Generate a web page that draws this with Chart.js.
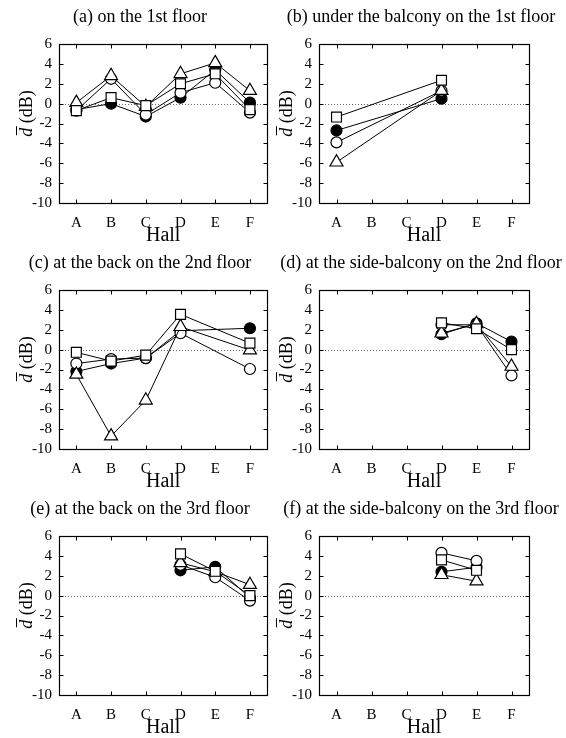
<!DOCTYPE html>
<html>
<head>
<meta charset="utf-8">
<script src="https://cdn.jsdelivr.net/npm/chart.js@4.4.1/dist/chart.umd.min.js"></script>
<style>
  html, body { margin: 0; padding: 0; background: #fff; }
  #fig { position: relative; width: 566px; height: 738px; overflow: hidden; }
  #fig canvas { position: absolute; }
</style>
</head>
<body>
<div id="fig"></div>
<script>
// ---- data ----
const HALLS = ['A', 'B', 'C', 'D', 'E', 'F'];
const Y_TICKS = [-10, -8, -6, -4, -2, 0, 2, 4, 6];
const TITLES = [
  '(a) on the 1st floor',
  '(b) under the balcony on the 1st floor',
  '(c) at the back on the 2nd floor',
  '(d) at the side-balcony on the 2nd floor',
  '(e) at the back on the 3rd floor',
  '(f) at the side-balcony on the 3rd floor'
];

// (a)
const a_filled   = [-0.6, 0.0, -1.3, 0.6, 3.4, 0.1];
const a_open     = [-0.7, 2.5, -1.1, 1.1, 2.1, -0.9];
const a_square   = [-0.7, 0.6, -0.2, 2.0, 3.0, -0.6];
const a_triangle = [0.1, 2.8, -0.3, 3.0, 4.1, 1.3];
// (b)
const b_filled   = [-2.7, null, null, 0.5, null, null];
const b_open     = [-3.9, null, null, 1.3, null, null];
const b_square   = [-1.35, null, null, 2.35, null, null];
const b_triangle = [-5.9, null, null, 1.3, null, null];
// (c)
const c_filled   = [-2.2, -1.4, -0.85, 1.9, null, 2.15];
const c_open     = [-1.4, -0.95, -0.85, 1.65, null, -1.95];
const c_square   = [-0.27, -1.15, -0.55, 3.55, null, 0.65];
const c_triangle = [-2.5, -8.7, -5.1, 2.3, null, -0.05];
// (d)
const d_filled   = [null, null, null, 1.55, 2.65, 0.8];
const d_open     = [null, null, null, 2.5, 2.5, -2.6];
const d_square   = [null, null, null, 2.7, 2.1, 0.0];
const d_triangle = [null, null, null, 1.65, 2.6, -1.7];
// (e)
const e_filled   = [null, null, null, 2.55, 2.9, -0.2];
const e_open     = [null, null, null, 3.1, 1.85, -0.5];
const e_square   = [null, null, null, 4.2, 2.45, 0.0];
const e_triangle = [null, null, null, 3.3, 2.4, 1.1];
// (f)
const f_filled   = [null, null, null, 2.4, 2.85, null];
const f_open     = [null, null, null, 4.3, 3.5, null];
const f_square   = [null, null, null, 3.6, 2.55, null];
const f_triangle = [null, null, null, 2.1, 1.45, null];

const PANELS = [
  [a_filled, a_open, a_square, a_triangle],
  [b_filled, b_open, b_square, b_triangle],
  [c_filled, c_open, c_square, c_triangle],
  [d_filled, d_open, d_square, d_triangle],
  [e_filled, e_open, e_square, e_triangle],
  [f_filled, f_open, f_square, f_triangle]
];

// ---- layout ----
const SERIF = '"Liberation Serif", "DejaVu Serif", serif';
const COL_X = [0, 276];
const COL_W = [276, 290];
const Y_AXIS_W = [59, 43];
const PAD_RIGHT = [7, 37];
const TITLE_CX = [140, 421];
const ROW_Y = [0, 246, 492];
const ROW_H = 246;

// gnuplot-like frame: box, inward ticks, dotted zero line, titles
const framePlugin = {
  id: 'frame',
  beforeDatasetsDraw(chart) {
    const { ctx, chartArea: ca, scales } = chart;
    const y0 = Math.round(scales.y.getPixelForValue(0)) + 0.5;
    ctx.save();
    ctx.strokeStyle = '#666';
    ctx.lineWidth = 1;
    ctx.setLineDash([1, 2]);
    ctx.beginPath();
    ctx.moveTo(ca.left, y0);
    ctx.lineTo(ca.right, y0);
    ctx.stroke();
    ctx.restore();
  },
  afterDraw(chart, args, opts) {
    const { ctx, chartArea: ca, scales } = chart;
    const L = Math.round(ca.left) + 0.5, R = Math.round(ca.right) + 0.5;
    const T = Math.round(ca.top) + 0.5, B = Math.round(ca.bottom) + 0.5;
    const tl = 4;
    ctx.save();
    ctx.strokeStyle = '#000';
    ctx.lineWidth = 1;
    ctx.beginPath();
    Y_TICKS.forEach(function(v) {
      const py = Math.round(scales.y.getPixelForValue(v)) + 0.5;
      ctx.moveTo(L, py); ctx.lineTo(L + tl, py);
      ctx.moveTo(R, py); ctx.lineTo(R - tl, py);
    });
    HALLS.forEach(function(h, i) {
      const px = Math.round(scales.x.getPixelForValue(i)) + 0.5;
      ctx.moveTo(px, B); ctx.lineTo(px, B - tl);
      ctx.moveTo(px, T); ctx.lineTo(px, T + tl);
    });
    ctx.stroke();
    ctx.lineWidth = 1.2;
    ctx.strokeRect(L, T, R - L, B - T);

    // panel title
    ctx.fillStyle = '#000';
    ctx.font = '18px ' + SERIF;
    ctx.textAlign = 'center';
    ctx.textBaseline = 'middle';
    ctx.fillText(opts.title, opts.titleX, 17);

    // y axis title: d-bar (dB)
    ctx.textAlign = 'left';
    ctx.translate(ca.left - 32, (ca.top + ca.bottom) / 2 - 10);
    ctx.rotate(-Math.PI / 2);
    ctx.font = 'italic 18px ' + SERIF;
    const wd = ctx.measureText('d').width;
    ctx.font = '18px ' + SERIF;
    const wr = ctx.measureText(' (dB)').width;
    const x = -(wd + wr) / 2;
    ctx.font = 'italic 18px ' + SERIF;
    ctx.fillText('d', x, 0);
    ctx.lineWidth = 1;
    ctx.beginPath();
    ctx.moveTo(x + 1.5, -10.5);
    ctx.lineTo(x + wd + 1.5, -10.5);
    ctx.stroke();
    ctx.font = '18px ' + SERIF;
    ctx.fillText(' (dB)', x + wd, 0);
    ctx.restore();
  }
};

function makePanel(idx) {
  const col = idx % 2, row = Math.floor(idx / 2);
  const s = PANELS[idx];
  const canvas = document.createElement('canvas');
  canvas.width = COL_W[col];
  canvas.height = ROW_H;
  canvas.style.left = COL_X[col] + 'px';
  canvas.style.top = ROW_Y[row] + 'px';
  document.getElementById('fig').appendChild(canvas);

  const common = { borderColor: '#000', borderWidth: 1, pointBorderColor: '#000',
                   pointBorderWidth: 1.2, tension: 0, spanGaps: true };

  new Chart(canvas, {
    type: 'line',
    data: {
      labels: HALLS,
      // first dataset is drawn on top
      datasets: [
        Object.assign({ data: s[2], pointStyle: 'rect', pointRadius: 7, pointBackgroundColor: '#fff' }, common),
        Object.assign({ data: s[3], pointStyle: 'triangle', pointRadius: 7.5, pointBackgroundColor: '#fff' }, common),
        Object.assign({ data: s[1], pointStyle: 'circle', pointRadius: 5.5, pointBackgroundColor: '#fff' }, common),
        Object.assign({ data: s[0], pointStyle: 'circle', pointRadius: 5.5, pointBackgroundColor: '#000' }, common)
      ]
    },
    options: {
      responsive: false,
      animation: false,
      events: [],
      layout: { padding: { left: 0, right: PAD_RIGHT[col], top: 44, bottom: 0 } },
      plugins: {
        legend: { display: false },
        tooltip: { enabled: false },
        title: { display: false },
        frame: { title: TITLES[idx], titleX: TITLE_CX[col] - COL_X[col] }
      },
      scales: {
        x: {
          type: 'category',
          offset: true,
          grid: { display: false, drawTicks: false },
          border: { display: false },
          ticks: { color: '#000', font: { family: SERIF, size: 15 }, padding: 11, maxRotation: 0, autoSkip: false },
          title: { display: true, text: 'Hall', color: '#000',
                   font: { family: SERIF, size: 20, lineHeight: 1 }, padding: 0 },
          afterFit: function(scale) { scale.height = 43; }
        },
        y: {
          min: -10,
          max: 6,
          grid: { display: false, drawTicks: false },
          border: { display: false },
          ticks: { color: '#000', font: { family: SERIF, size: 15 }, padding: 7, autoSkip: false },
          afterBuildTicks: function(scale) {
            scale.ticks = Y_TICKS.map(function(v) { return { value: v }; });
          },
          afterFit: function(scale) { scale.width = Y_AXIS_W[col]; }
        }
      }
    },
    plugins: [framePlugin]
  });
}

for (let i = 0; i < PANELS.length; i++) makePanel(i);
</script>
</body>
</html>
